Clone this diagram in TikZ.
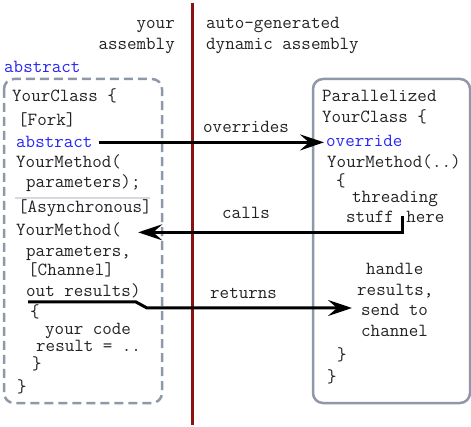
\documentclass[tikz,border=0pt]{standalone}
\usetikzlibrary{arrows.meta}
\definecolor{codeink}{HTML}{222222}
\definecolor{kwblue}{HTML}{2626F5}
\definecolor{boxgray}{HTML}{8E98A8}
\definecolor{seprule}{HTML}{D5DAE0}
\definecolor{divred}{HTML}{8B1010}
\begin{document}
\begin{tikzpicture}[x=1pt,y=-1pt,
  code/.style={anchor=base west, inner xsep=2pt, inner ysep=0pt, text=codeink,
    font=\ttfamily\fontsize{18.5}{20}\selectfont},
  kw/.style={code, text=kwblue},
  head/.style={code, anchor=base east},
  arr/.style={line width=3pt, -{Stealth[length=24pt,width=16pt,inset=9pt]}},
  dashbox/.style={draw=boxgray, line width=2.5pt, rounded corners=10pt, dash pattern=on 9pt off 5pt},
  solidbox/.style={draw=boxgray, line width=2.5pt, rounded corners=10pt}]
\useasboundingbox (0,0) rectangle (471,427);
\draw[divred, line width=3pt] (192,3) -- (192,425);
\node[head] (your) at (177,29){your};
\node[head] (assembly) at (177,50){assembly};
\node[code] (autogen) at (204,29){auto-generated};
\node[code] (dynamic) at (204,50){dynamic assembly};
\node[kw] (absTop) at (2,73){abstract};
\draw[dashbox] (4,79) rectangle (162,403);
\draw[solidbox] (313,79) rectangle (470,403);
\node[code] (lClass) at (10,102){YourClass \{};
\node[code] (fork) at (16,126){[Fork]};
\node[kw] (abs) at (14,148){abstract};
\node[code] (lMeth1) at (14,168){YourMethod(};
\node[code] (lParam1) at (24,188){parameters);};
\draw[seprule, line width=1.5pt] (15,198) -- (150,198);
\node[code] (async) at (16,213){[Asynchronous]};
\node[code] (lMeth2) at (14,236){YourMethod(};
\node[code] (lParam2) at (24,257){parameters,};
\node[code] (channel) at (26,276){[Channel]};
\node[code] (outRes) at (24,297){out results)};
\node[code] (lOpen) at (28,318){\{};
\node[code] (yourCode) at (43,335){your code};
\node[code] (resultLine) at (34,352){result = ..};
\node[code] (lClose1) at (30,370){\}};
\node[code] (lClose2) at (15,392){\}};
\node[code] (rPar) at (320,102){Parallelized};
\node[code] (rClass) at (320,123){YourClass \{};
\node[kw] (ovr) at (324,147){override};
\node[code] (rMeth) at (325,168){YourMethod(..)};
\node[code] (rOpen) at (334,187){\{};
\node[code] (threading) at (350,203){threading};
\node[code] (stuff) at (344,223){stuff\hspace{3pt} here};
\node[code] (handle) at (364,275){handle};
\node[code] (results) at (355,296){results,};
\node[code] (sendTo) at (359,316){send to};
\node[code] (chan) at (359,337){channel};
\node[code] (rClose1) at (335,360){\}};
\node[code] (rClose2) at (325,382){\}};
\node[code] (overrides) at (201,133){overrides};
\node[code] (calls) at (220,219){calls};
\node[code] (returns) at (208,299){returns};
\coordinate (tick) at (402,216);
\coordinate (retStart) at (28,302);
\coordinate (retKink) at (136,302);
\coordinate (retEnd) at (352,308);
\draw[arr] ([xshift=4pt]abs.east) -- (abs.east -| ovr.west);
\draw[arr] (tick) |- ([xshift=15pt,yshift=-2pt]lMeth2.east);
\draw[arr] (retStart) -- (retKink) -- ++(11,6) -- (retEnd);
\end{tikzpicture}
\end{document}
